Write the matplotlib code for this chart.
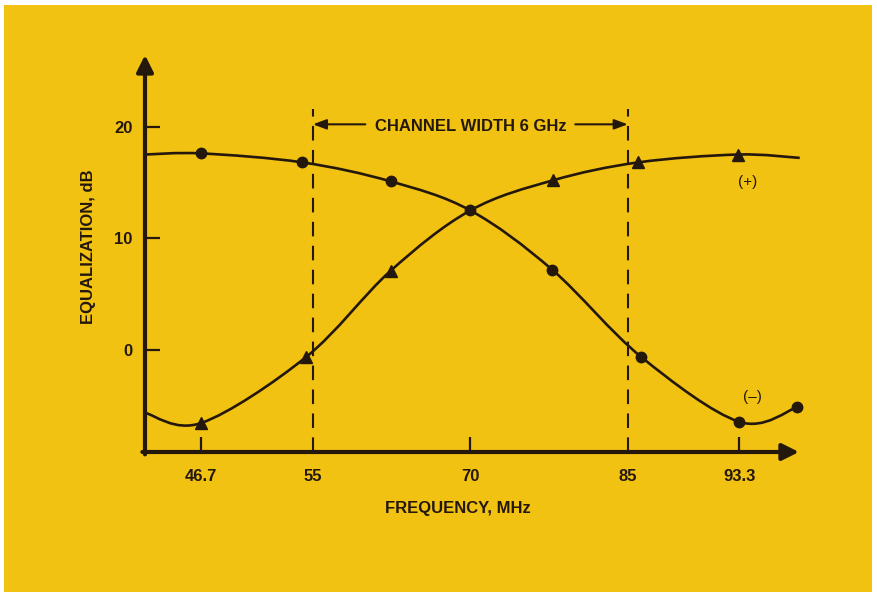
import matplotlib
matplotlib.use('Agg')
import matplotlib.pyplot as plt
import numpy as np
from matplotlib.path import Path
from matplotlib.patches import PathPatch, Rectangle

# data (frequency in MHz, equalization in dB)
freq_minus = [42.5, 46.7, 54.2, 62.4, 70.0, 77.8, 86.0, 93.3, 97.6]
eq_minus = [17.5, 17.6, 16.8, 15.1, 12.5, 7.2, -0.6, -6.4, -5.1]
freq_plus = [42.5, 46.7, 54.5, 62.4, 70.0, 77.9, 85.8, 93.2, 97.8]
eq_plus = [-5.6, -6.5, -0.6, 7.1, 12.5, 15.2, 16.8, 17.5, 17.2]
# which points carry a marker
marked_minus = [1, 2, 3, 4, 5, 6, 7, 8]
marked_plus = [1, 2, 3, 5, 6, 7]

xtick_vals = [46.7, 55, 70, 85, 93.3]
xtick_labels = ['46.7', '55', '70', '85', '93.3']
ytick_vals = [0, 10, 20]
channel_edges = [55, 85]

ink = '#24180c'
yellow = '#f2c212'

# the drawing stretches the scale outside the channel
K = 0.28


def fwd(f):
    f = np.asarray(f, dtype=float)
    return f + K * (np.minimum(f, 55) - 55) + K * (np.maximum(f, 85) - 85)


def inv(p):
    p = np.asarray(p, dtype=float)
    out = np.where(p < 55, 55 + (p - 55) / (1 + K), p)
    out = np.where(p > 85, 85 + (p - 85) / (1 + K), out)
    return out


def smooth_path(xs, ys):
    # catmull-rom through the points, as cubic bezier segments
    px = fwd(xs)
    py = np.asarray(ys, dtype=float)
    n = len(px)
    verts = [(px[0], py[0])]
    codes = [Path.MOVETO]
    for i in range(n - 1):
        i0 = max(i - 1, 0)
        i3 = min(i + 2, n - 1)
        c1 = (px[i] + (px[i + 1] - px[i0]) / 6, py[i] + (py[i + 1] - py[i0]) / 6)
        c2 = (px[i + 1] - (px[i3] - px[i]) / 6, py[i + 1] - (py[i3] - py[i]) / 6)
        verts += [c1, c2, (px[i + 1], py[i + 1])]
        codes += [Path.CURVE4] * 3
    verts = np.array(verts)
    verts[:, 0] = inv(verts[:, 0])
    return Path(verts, codes)


plt.rcParams['font.family'] = ['Liberation Sans', 'DejaVu Sans']
fs = 12

fig = plt.figure(figsize=(8.77, 5.98), dpi=100, facecolor='white')
fig.patches.append(Rectangle((4 / 877, 6 / 598), 868 / 877, 587 / 598,
                             transform=fig.transFigure, facecolor=yellow,
                             edgecolor='none', zorder=-10))

ax = fig.add_axes([145 / 877, 146 / 598, 652 / 877, 397 / 598])
ax.set_facecolor('none')
ax.set_xscale('function', functions=(fwd, inv))
ax.set_xlim(42.5, 97.6)
ax.set_ylim(-9.1, 26.4)

for s in ax.spines.values():
    s.set_visible(False)

# axes with arrow heads
arrow = dict(arrowstyle='-|>,head_length=1.0,head_width=0.5', lw=3,
             color=ink, shrinkA=0, shrinkB=0)
ax.annotate('', xy=(0, 1), xytext=(0, -0.006), xycoords='axes fraction',
            arrowprops=arrow, annotation_clip=False)
ax.annotate('', xy=(1.003, 0), xytext=(-0.004, 0), xycoords='axes fraction',
            arrowprops=arrow, annotation_clip=False)

ax.set_xticks(xtick_vals)
ax.set_xticklabels(xtick_labels)
ax.xaxis.set_minor_locator(matplotlib.ticker.NullLocator())
ax.set_yticks(ytick_vals)
ax.tick_params(axis='both', direction='in', length=11, width=1.6, color=ink,
               labelcolor=ink, labelsize=fs)
ax.tick_params(axis='x', pad=12)
ax.tick_params(axis='y', pad=9)
for t in ax.get_xticklabels() + ax.get_yticklabels():
    t.set_fontweight('bold')
for i, v in enumerate(xtick_vals):
    if v in channel_edges:
        ax.xaxis.get_major_ticks()[i].tick1line.set_visible(False)

ax.set_xlabel('FREQUENCY, MHz', fontsize=fs, fontweight='bold', color=ink)
ax.xaxis.set_label_coords(0.48, -0.123)
ax.set_ylabel('EQUALIZATION, dB', fontsize=fs, fontweight='bold', color=ink)
ax.yaxis.set_label_coords(-0.075, 0.516)

# channel edges
ax.vlines(channel_edges, -9.1, 21.6, colors=ink, lw=1.5,
          linestyles=(0, (7, 4.5)))
ax.text(70, 20.05, 'CHANNEL WIDTH 6 GHz', ha='center', va='center',
        fontsize=fs, fontweight='bold', color=ink)
head = dict(arrowstyle='-|>,head_length=0.8,head_width=0.3', lw=1.5,
            color=ink, shrinkA=0, shrinkB=0)
ax.annotate('', xy=(55, 20.2), xytext=(60.0, 20.2), arrowprops=head)
ax.annotate('', xy=(85, 20.2), xytext=(80.0, 20.2), arrowprops=head)

# curves
ax.add_patch(PathPatch(smooth_path(freq_minus, eq_minus), facecolor='none',
                       edgecolor=ink, lw=1.9, clip_on=False))
ax.add_patch(PathPatch(smooth_path(freq_plus, eq_plus), facecolor='none',
                       edgecolor=ink, lw=1.9, clip_on=False))
ax.plot([freq_minus[i] for i in marked_minus], [eq_minus[i] for i in marked_minus],
        'o', color=ink, ms=7.5, clip_on=False)
ax.plot([freq_plus[i] for i in marked_plus], [eq_plus[i] for i in marked_plus],
        '^', color=ink, ms=8.5, clip_on=False)

ax.text(93.9, 15.0, '(+)', ha='center', va='center', fontsize=11, color=ink)
ax.text(94.3, -4.2, '(\u2013)', ha='center', va='center', fontsize=11, color=ink)

fig.savefig('out.png', dpi=100, facecolor='white')
